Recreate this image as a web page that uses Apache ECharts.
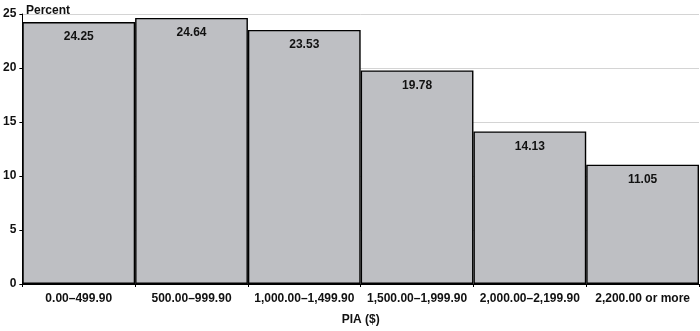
<!DOCTYPE html>
<html><head><meta charset="utf-8">
<script src="https://cdn.jsdelivr.net/npm/echarts@6/dist/echarts.min.js"></script>
<style>html,body{margin:0;padding:0;background:#fff}#c{width:700px;height:331px}</style>
</head><body><div id="c"></div>
<script>
var categories = ['0.00–499.90','500.00–999.90','1,000.00–1,499.90','1,500.00–1,999.90','2,000.00–2,199.90','2,200.00 or more'];
var percents = [24.25, 24.64, 23.53, 19.78, 14.13, 11.05];
var yTicks = [0, 5, 10, 15, 20, 25];

var chart = echarts.init(document.getElementById('c'));
var font = 'Liberation Sans, Arial, Helvetica, sans-serif';
chart.setOption({
  animation: false,
  grid: {left: 20, right: 1, top: 14, bottom: 44, containLabel: false},
  title: {text: 'Percent', left: 21, top: 0, textStyle: {fontFamily: font, fontSize: 12, fontWeight: 'bold', color: '#111'}},
  xAxis: {
    type: 'category', data: categories,
    name: 'PIA ($)', nameLocation: 'middle', nameGap: 30,
    nameTextStyle: {fontFamily: font, fontSize: 12, fontWeight: 'bold', color: '#111'},
    axisLine: {lineStyle: {color: '#000', width: 1}},
    axisTick: {show: true, length: 3, lineStyle: {color: '#000'}},
    axisLabel: {fontFamily: font, fontSize: 12, fontWeight: 'bold', color: '#111', margin: 9, interval: 0}
  },
  yAxis: {
    type: 'value', min: yTicks[0], max: yTicks[yTicks.length-1], interval: 5,
    axisLine: {show: true, lineStyle: {color: '#000', width: 1}},
    axisTick: {show: true, length: 3, lineStyle: {color: '#000'}},
    axisLabel: {fontFamily: font, fontSize: 12, fontWeight: 'bold', color: '#111', margin: 6},
    splitLine: {show: true, lineStyle: {color: '#d4d4d4', width: 1}}
  },
  series: [{
    type: 'bar', data: percents, barCategoryGap: '0%',
    itemStyle: {color: '#bebfc3', borderColor: '#000', borderWidth: 1.4},
    label: {show: true, position: 'insideTop', distance: 9, fontFamily: font, fontSize: 12, fontWeight: 'bold', color: '#111',
      formatter: function(p){ return p.value.toFixed(2); }}
  }]
});
</script></body></html>
